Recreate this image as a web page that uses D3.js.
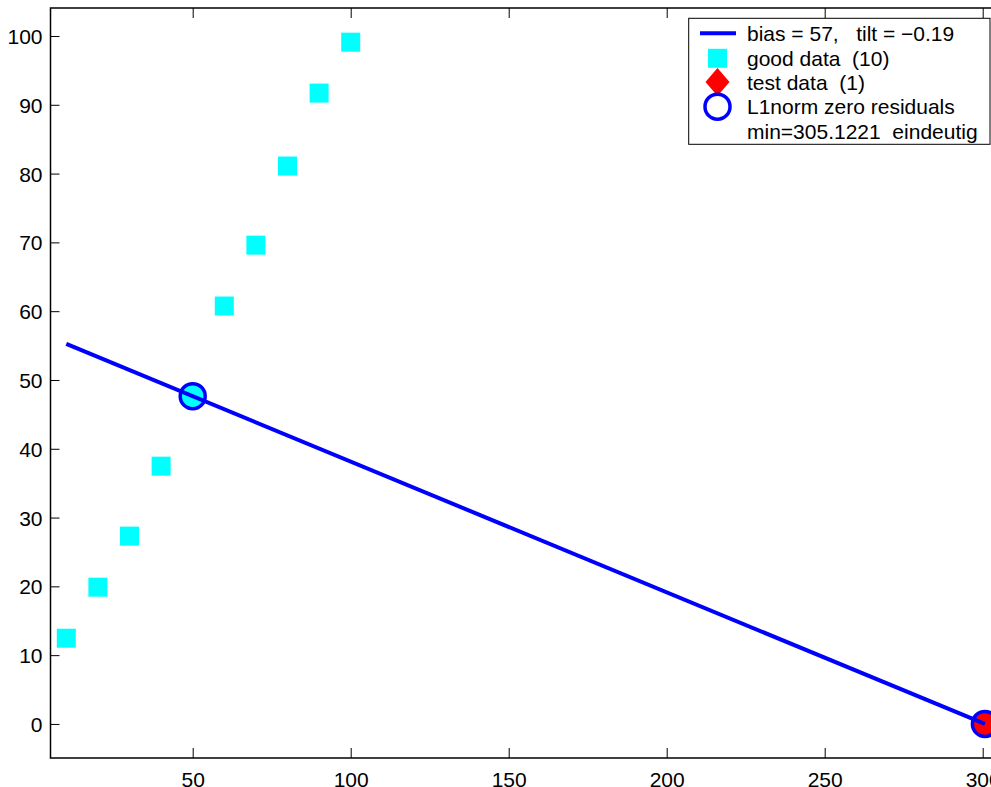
<!DOCTYPE html>
<html>
<head>
<meta charset="utf-8">
<script src="https://cdn.jsdelivr.net/npm/d3@7"></script>
<style>
  html, body { margin: 0; padding: 0; background: #fff; overflow: hidden; }
  svg { display: block; font-family: "Liberation Sans", Arial, Helvetica, sans-serif; }
</style>
</head>
<body>
<svg id="chart" width="991" height="787"></svg>
<script>
// ---- data ----
const goodX = [10, 20, 30, 40, 50, 60, 70, 80, 90, 100];
const goodY = [12.46, 19.88, 27.3, 37.47, 47.65, 60.75, 69.6, 81.1, 91.7, 99.1];
const testX = [300.7];
const testY = [0];
const fitLineX = [10, 300.7];
const fitLineY = [55.24, 0];
const zeroResX = [50, 300.7];
const zeroResY = [47.65, 0];
const zeroResFill = ["#00ffff", "#ff0000"];
const xTicks = [50, 100, 150, 200, 250, 300];
const yTicks = [0, 10, 20, 30, 40, 50, 60, 70, 80, 90, 100];
const legendLabels = ["bias = 57,   tilt = \u22120.19", "good data  (10)", "test data  (1)", "L1norm zero residuals", "min=305.1221  eindeutig"];

// ---- layout ----
const svg = d3.select("#chart");
const L = 50.5, T = 8, B = 758;
const x = d3.scaleLinear().domain([5, 306]).range([L, L + 301 * 3.16]);
const y = d3.scaleLinear().domain([-4.95, 104.07]).range([B, T]);
const R = x(306);

const BLUE = "#0000ff", CYAN = "#00ffff", RED = "#ff0000";

// axes box
svg.append("rect").attr("x", L).attr("y", T).attr("width", R - L).attr("height", B - T)
  .attr("fill", "none").attr("stroke", "#000").attr("stroke-width", 1.5);

// ticks (inside) and labels
const fs = 21;
const xAxisB = d3.axisBottom(x).tickValues(xTicks).tickSizeInner(-10).tickSizeOuter(0).tickPadding(14)
  .tickFormat(d3.format("d"));
const gxb = svg.append("g").attr("transform", `translate(0,${B})`).call(xAxisB);
const xAxisT = d3.axisTop(x).tickValues(xTicks).tickSizeInner(-10).tickSizeOuter(0).tickFormat("");
const gxt = svg.append("g").attr("transform", `translate(0,${T})`).call(xAxisT);
const yAxisL = d3.axisLeft(y).tickValues(yTicks).tickSizeInner(-9).tickSizeOuter(0).tickPadding(8)
  .tickFormat(d3.format("d"));
const gyl = svg.append("g").attr("transform", `translate(${L},0)`).call(yAxisL);
[gxb, gxt, gyl].forEach(g => {
  g.select(".domain").remove();
  g.selectAll(".tick line").attr("stroke", "#000").attr("stroke-width", 1);
  g.selectAll(".tick text").attr("font-size", fs).attr("fill", "#000")
    .attr("font-family", "Liberation Sans, Arial, sans-serif");
});
gxb.selectAll(".tick text").attr("dy", "0.71em");
gyl.selectAll(".tick text").attr("dy", "0.36em");

// plot clip
svg.append("defs").append("clipPath").attr("id", "clip")
  .append("rect").attr("x", L).attr("y", T).attr("width", R - L).attr("height", B - T);
const plot = svg.append("g").attr("clip-path", "url(#clip)");

// good data squares
const sq = 19;
plot.selectAll("rect.good").data(goodX.map((d, i) => [d, goodY[i]])).enter()
  .append("rect").attr("class", "good")
  .attr("x", d => x(d[0]) - sq / 2).attr("y", d => y(d[1]) - sq / 2)
  .attr("width", sq).attr("height", sq).attr("fill", CYAN);

// test data diamond
const diamond = (cx, cy, w, h) => `M${cx},${cy - h / 2}L${cx + w / 2},${cy}L${cx},${cy + h / 2}L${cx - w / 2},${cy}Z`;
plot.selectAll("path.test").data(testX.map((d, i) => [d, testY[i]])).enter()
  .append("path").attr("class", "test")
  .attr("d", d => diamond(x(d[0]), y(d[1]), 24, 28)).attr("fill", RED);

// zero-residual circles
plot.selectAll("circle.zr").data(zeroResX.map((d, i) => [d, zeroResY[i], zeroResFill[i]])).enter()
  .append("circle").attr("class", "zr")
  .attr("cx", d => x(d[0])).attr("cy", d => y(d[1])).attr("r", 12.5)
  .attr("fill", d => d[2]).attr("stroke", BLUE).attr("stroke-width", 3.5);

// fit line
plot.append("path").datum(fitLineX.map((d, i) => [d, fitLineY[i]]))
  .attr("d", d3.line().x(d => x(d[0])).y(d => y(d[1])))
  .attr("fill", "none").attr("stroke", BLUE).attr("stroke-width", 4);

// ---- legend ----
const lg = svg.append("g");
lg.append("rect").attr("x", 688.7).attr("y", 18.3).attr("width", 301.3).attr("height", 126)
  .attr("fill", "#fff").attr("stroke", "#000").attr("stroke-width", 1);
const rowY = [33.3, 58.3, 82, 106.7, 131.3];
const mx = 717.5;
lg.append("line").attr("x1", 700).attr("x2", 736).attr("y1", rowY[0]).attr("y2", rowY[0])
  .attr("stroke", BLUE).attr("stroke-width", 4);
lg.append("rect").attr("x", mx - sq / 2).attr("y", rowY[1] - sq / 2).attr("width", sq).attr("height", sq).attr("fill", CYAN);
lg.append("path").attr("d", diamond(mx, rowY[2], 24, 28)).attr("fill", RED);
lg.append("circle").attr("cx", mx).attr("cy", rowY[3]).attr("r", 12.5)
  .attr("fill", "none").attr("stroke", BLUE).attr("stroke-width", 3.5);
lg.selectAll("text").data(legendLabels).enter().append("text")
  .attr("x", 747).attr("y", (d, i) => rowY[i] + 7.5)
  .attr("font-size", fs).attr("fill", "#000")
  .style("white-space", "pre").attr("xml:space", "preserve")
  .text(d => d);
</script>
</body>
</html>
